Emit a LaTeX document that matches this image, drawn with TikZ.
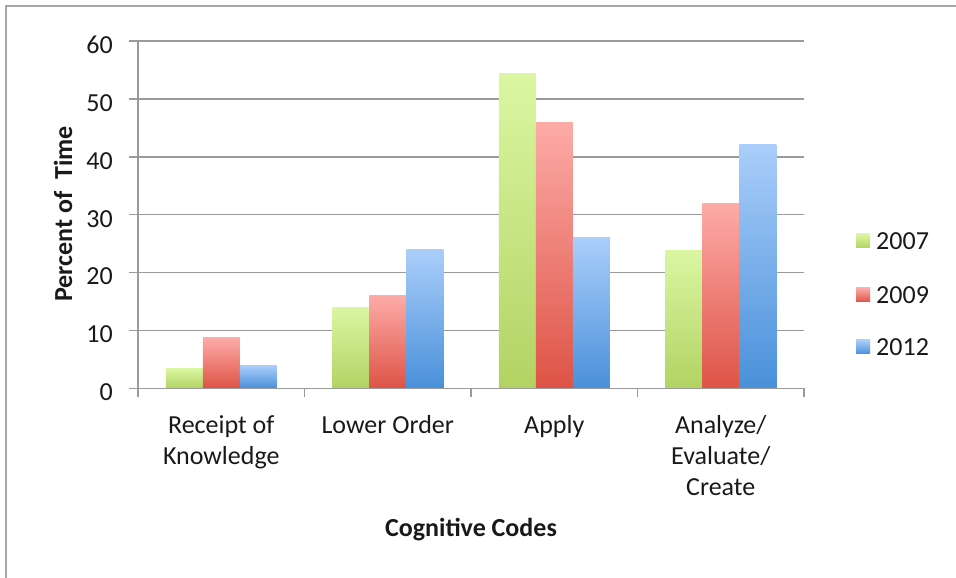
\documentclass[tikz,border=0pt]{standalone}
\usepackage{fontspec}
\setmainfont{Carlito}
\definecolor{GreenTop}{HTML}{DBF6A2}
\definecolor{GreenBot}{HTML}{B2D363}
\definecolor{RedTop}{HTML}{FDABA7}
\definecolor{RedBot}{HTML}{DE5346}
\definecolor{BlueTop}{HTML}{AACEFA}
\definecolor{BlueBot}{HTML}{4990DA}
\definecolor{GridGray}{HTML}{9A9A9A}
\begin{document}
\begin{tikzpicture}[x=1pt,y=1pt,
    every node/.style={inner sep=0pt,text=black!90,font=\fontsize{26}{31}\selectfont},
    gridline/.style={draw=GridGray,line width=1.5pt},
    frame/.style={draw=black!35,line width=2pt},
    bar7/.style={top color=GreenTop,bottom color=GreenBot},
    bar9/.style={top color=RedTop,bottom color=RedBot},
    bar12/.style={top color=BlueTop,bottom color=BlueBot}]
  \def\Unit{5.785}
  \def\Cat{166.5}
  \def\Bar{37}
  \def\Zero{189.7}
  \useasboundingbox (0,0) rectangle (956,578);
  % Frame
  \draw[frame] (6,-10) -- (6,572) -- (970,572);
  \path
    (138,\Zero) coordinate (O)
    (804,\Zero) coordinate (E)
    (138,{\Zero+60*\Unit}) coordinate (T)
  ;
  % Grid lines and y labels
  \foreach \v in {10,20,...,60}
    \draw[gridline] (129,{\Zero+\v*\Unit}) -- (804,{\Zero+\v*\Unit});
  \foreach \v in {0,10,...,60}
    \node[anchor=east] (ylab\v) at (113,{\Zero+\v*\Unit-4}) {\v};
  % Bars
  \foreach \c/\a/\b/\d in {0/3.5/8.7/4,1/14/16/24,2/54.4/46/26,3/23.8/32/42.2}{
    \shade[bar7] ({138+\c*\Cat+27.75},\Zero) rectangle ++(\Bar,{\a*\Unit});
    \shade[bar9] ({138+\c*\Cat+27.75+\Bar},\Zero) rectangle ++(\Bar,{\b*\Unit});
    \shade[bar12] ({138+\c*\Cat+27.75+2*\Bar},\Zero) rectangle ++(\Bar,{\d*\Unit});
  }
  % Axes
  \draw[gridline] (O) -- (T);
  \draw[gridline] (129,\Zero) -- (E);
  \foreach \c in {0,...,4}
    \draw[gridline] ({138+\c*\Cat},\Zero) -- ++(0,-9);
  % Category labels
  \foreach \c/\txt in {0/{Receipt of\\Knowledge},1/{Lower Order},2/{Apply},3/{Analyze/\\Evaluate/\\Create}}
    \node[anchor=north,align=center] (cat\c) at ({138+(\c+0.5)*\Cat},166.4) {\strut\txt};
  % Axis titles
  \node[rotate=90,font=\fontsize{26}{31}\selectfont\bfseries] (ytitle) at (63,364) {Percent of\ \ Time};
  \node[anchor=base,font=\fontsize{26}{31}\selectfont\bfseries] (xtitle) at (471,41.3) {Cognitive Codes};
  % Legend
  \foreach \y/\yr/\s in {337/2007/bar7,283/2009/bar9,231/2012/bar12}{
    \shade[\s] (856,{\y-7}) rectangle ++(14,14);
    \node[anchor=base west] (leg\yr) at (876,{\y-8.3}) {\yr};
  }
\end{tikzpicture}
\end{document}
